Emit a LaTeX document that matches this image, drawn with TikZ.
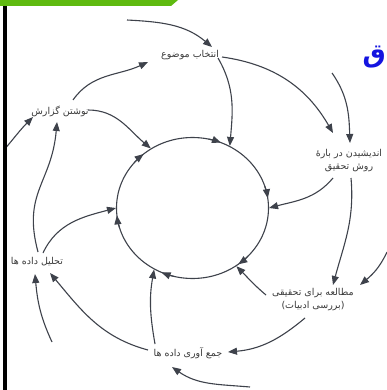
\documentclass[tikz,border=0pt]{standalone}
\usepackage{fontspec}
\newfontfamily\fa[Script=Arabic]{DejaVu Sans}
\TeXXeTstate=1
\usetikzlibrary{arrows.meta,calc,shapes.geometric}
\definecolor{ln}{HTML}{3E424B}
\definecolor{tx}{HTML}{3A3A3A}
\definecolor{gbar}{HTML}{5FBA10}
\definecolor{ttl}{HTML}{1414E0}
\begin{document}
\begin{tikzpicture}[x=1pt,y=1pt,
  conn/.style={draw=ln, line width=1.1pt, -{Triangle[length=9pt,width=7pt]}},
  lab/.style={text=tx, font=\fa\fontsize{9.5}{13}\selectfont, inner sep=0pt, align=center}]
\useasboundingbox (0,0) rectangle (386,-390);
\fill[white] (0,0) rectangle (386,-390);
% central cycle
\node[ellipse, draw=ln, line width=1.1pt, minimum width=152pt, minimum height=141pt, inner sep=0pt] (c) at (192.5,-208) {};
\foreach \a in {130,68,8,-53,-114,186}
  \draw[conn] ($(c.center)+(\a+10:76pt and 70.5pt)$) arc[start angle=\a+10, end angle=\a, x radius=76pt, y radius=70.5pt];
% stages
\node[lab] (n1) at (190,-55) {\beginR انتخاب موضوع\endR};
\node[lab] (n2) at (349,-161) {\beginR اندیشیدن در بارهٔ\endR\\\beginR روش تحقیق\endR};
\node[lab] (n3) at (313,-300) {\beginR مطالعه برای تحقیقی\endR\\\beginR (بررسی ادبیات)\endR};
\node[lab] (n4) at (188,-353) {\beginR جمع آوری داده ها\endR};
\node[lab] (n5) at (37,-262) {\beginR تحلیل داده ها\endR};
\node[lab] (n6) at (60,-111) {\beginR نوشتن گزارش\endR};
% free ends
\coordinate (f1) at (127,-20);
\coordinate (f2) at (332,-73);
\coordinate (f3) at (387,-252);
\coordinate (f4) at (250,-387);
\coordinate (f5) at (52,-342);
\coordinate (f6) at (4,-150);
% connectors
\draw[conn] (f1) to[out=-3,in=140] ($(n1)+(22,8)$);
\draw[conn] ($(n6)+(13,11)$) to[out=55,in=-155] ($(n1)+(-42,-7)$);
\draw[conn] ($(n1)+(28,-3)$) to[out=-60,in=85] (c.59);
\draw[conn] ($(n1)+(32,-2)$) to[out=-8,in=120] ($(n2)+(-16,28)$);
\draw[conn] (f2) to[out=-55,in=92] ($(n2)+(1,18)$);
\draw[conn] ($(n2)+(-16,-17)$) to[out=-130,in=15] (c.0);
\draw[conn] ($(n2)+(2,-17)$) to[out=-85,in=75] ($(n3)+(20,15)$);
\draw[conn] (f3) to[out=-115,in=40] ($(n3)+(47,15)$);
\draw[conn] ($(n3)+(-47,5)$) to[out=140,in=-45] (c.-53);
\draw[conn] ($(n3)+(-8,-18)$) to[out=-140,in=5] ($(n4)+(40,1)$);
\draw[conn] (f4) to[out=175,in=-35] ($(n4)+(-16,-14)$);
\draw[conn] ($(n4)+(-33,9)$) to[out=100,in=-100] (c.-122);
\draw[conn] ($(n4)+(-40,3)$) to[out=165,in=-50] ($(n5)+(13,-11)$);
\draw[conn] (f5) to[out=115,in=-85] ($(n5)+(-2,-12)$);
\draw[conn] ($(n5)+(6,9)$) to[out=65,in=195] (c.180);
\draw[conn] ($(n5)+(1,10)$) to[out=105,in=-95,looseness=1.2] ($(n6)+(-3,-11)$);
\draw[conn] (f6) to[out=50,in=-135] ($(n6)+(-27,-6)$);
\draw[conn] ($(n6)+(28,1)$) to[out=0,in=140] (c.125);
% frame decorations
\fill[gbar] (0,0) -- (178,0) -- (171,-6) -- (0,-6) -- cycle;
\fill[black] (3,-6) rectangle (7,-390);
\node[text=ttl, font=\fa\bfseries\fontsize{26}{26}\selectfont, anchor=east, inner sep=0pt] (t) at (386,-57) {\beginR ق\endR};
\end{tikzpicture}
\end{document}
